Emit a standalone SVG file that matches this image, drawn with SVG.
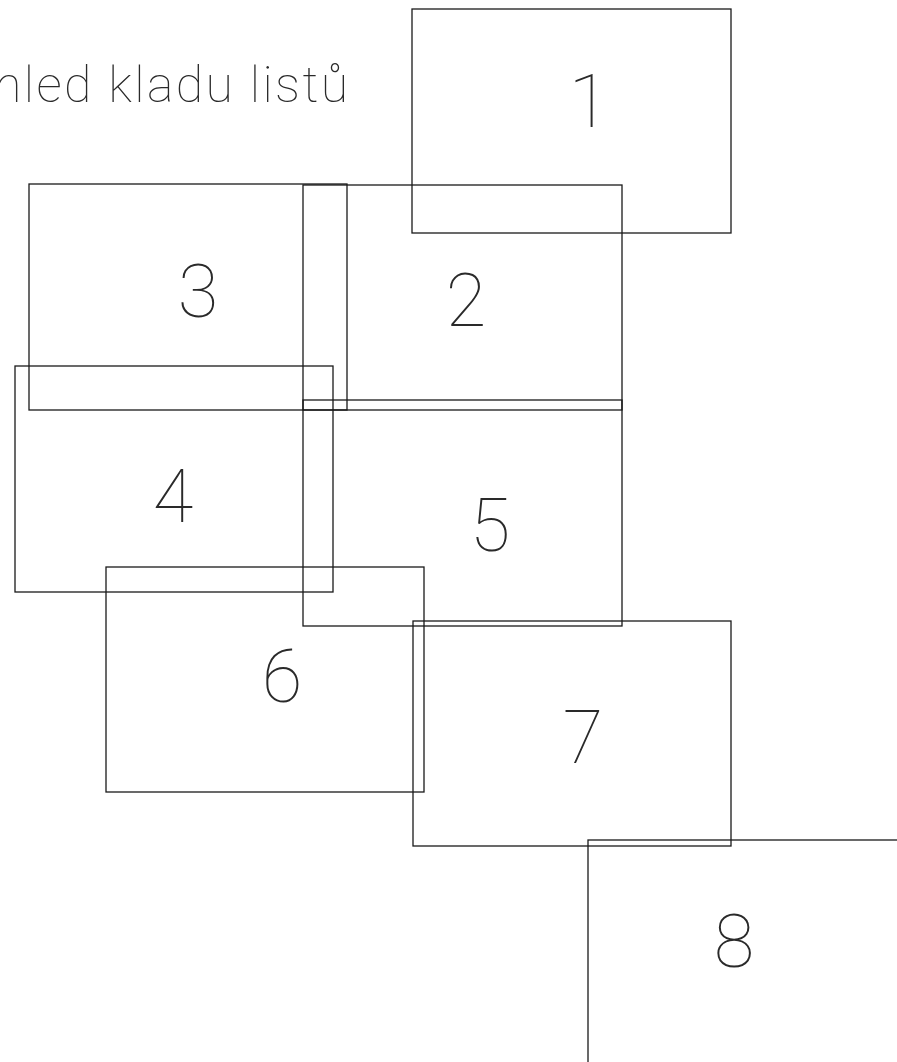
<svg xmlns="http://www.w3.org/2000/svg" width="897" height="1062" viewBox="0 0 897 1062">
<style>
.sheet{fill:none;stroke:#1a1a1a;stroke-width:1.3}
.num{font-family:"Roboto","Lato","Liberation Sans",sans-serif;font-weight:100;font-size:74px;fill:#2a2a2a;text-anchor:middle}
.title{font-family:"Roboto","Lato","Liberation Sans",sans-serif;font-weight:100;font-size:50px;fill:#2a2a2a}
</style>
<rect width="897" height="1062" fill="#ffffff"/>
<text class="title" x="-6" y="102" textLength="354" lengthAdjust="spacing">hled kladu listů</text>
<g id="sheet1"><rect class="sheet" x="412" y="9" width="319" height="224"/><text class="num" x="589" y="127">1</text></g>
<g id="sheet2"><rect class="sheet" x="303" y="185" width="319" height="225"/><text class="num" x="466" y="326">2</text></g>
<g id="sheet3"><rect class="sheet" x="29" y="184" width="318" height="226"/><text class="num" x="198" y="317">3</text></g>
<g id="sheet4"><rect class="sheet" x="15" y="366" width="318" height="226"/><text class="num" x="173" y="522">4</text></g>
<g id="sheet5"><rect class="sheet" x="303" y="400" width="319" height="226"/><text class="num" x="490" y="551">5</text></g>
<g id="sheet6"><rect class="sheet" x="106" y="567" width="318" height="225"/><text class="num" x="282" y="702">6</text></g>
<g id="sheet7"><rect class="sheet" x="413" y="621" width="318" height="225"/><text class="num" x="583" y="763">7</text></g>
<g id="sheet8"><rect class="sheet" x="588" y="840" width="320" height="230"/><text class="num" x="734" y="967">8</text></g>
<g id="connectors"></g>
</svg>
